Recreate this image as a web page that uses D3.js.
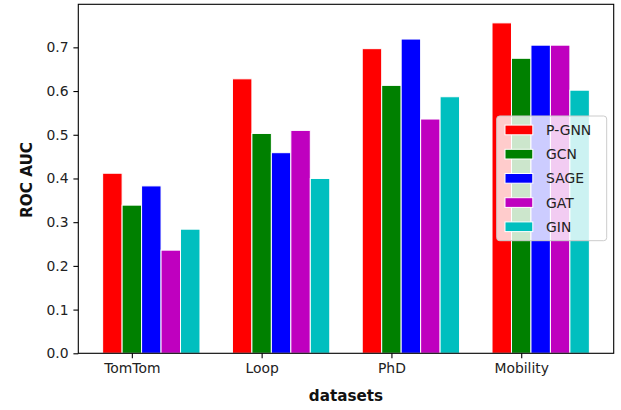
<!DOCTYPE html>
<html>
<head>
<meta charset="utf-8">
<script src="https://cdn.jsdelivr.net/npm/d3@7"></script>
<style>
  html, body { margin: 0; padding: 0; background: #fff; }
  svg text { font-family: "DejaVu Sans", sans-serif; }
</style>
</head>
<body>
<svg id="chart" width="621" height="410"></svg>
<script>
// Datasets on the x axis
const datasets = ["TomTom", "Loop", "PhD", "Mobility"];
// Models compared, one bar per model in each group
const models = ["P-GNN", "GCN", "SAGE", "GAT", "GIN"];
const modelColors = ["#ff0000", "#008000", "#0000ff", "#bf00bf", "#00bfbf"];
// ROC AUC per model, in dataset order
const pgnn = [0.412, 0.628, 0.697, 0.756];
const gcn  = [0.339, 0.503, 0.613, 0.675];
const sage = [0.383, 0.459, 0.719, 0.705];
const gat  = [0.236, 0.510, 0.536, 0.705];
const gin  = [0.284, 0.400, 0.587, 0.602];
const yTicks = [0.0, 0.1, 0.2, 0.3, 0.4, 0.5, 0.6, 0.7];

const series = [pgnn, gcn, sage, gat, gin];
const barWidth = 0.15;

const svg = d3.select("#chart");
const plotLeft = 78.3, plotRight = 613.7, plotTop = 4.3, plotBottom = 353.3;

const x = d3.scaleLinear().domain([-0.2625, 3.8625]).range([plotLeft, plotRight]);
const y = d3.scaleLinear().domain([0, 0.7985]).range([plotBottom, plotTop]);

// Bars
series.forEach((vals, m) => {
  svg.append("g").selectAll("rect")
    .data(vals)
    .join("rect")
    .attr("x", (d, i) => x(i + m * barWidth - barWidth / 2))
    .attr("width", x(barWidth) - x(0))
    .attr("y", d => y(d))
    .attr("height", d => y(0) - y(d))
    .attr("fill", modelColors[m])
    .attr("stroke", "#fff")
    .attr("stroke-width", 1);
});

// Axes
const yAxis = d3.axisLeft(y).tickValues(yTicks).tickFormat(d3.format(".1f")).tickSize(4.9).tickPadding(4.9);
const gy = svg.append("g").attr("transform", `translate(${plotLeft},0)`).call(yAxis);
const xAxis = d3.axisBottom(x).tickValues(datasets.map((d, i) => i + barWidth))
  .tickFormat((d, i) => datasets[i]).tickSize(4.9).tickPadding(4.9);
const gx = svg.append("g").attr("transform", `translate(0,${plotBottom})`).call(xAxis);
[gx, gy].forEach(g => {
  g.select(".domain").remove();
  g.selectAll(".tick line").attr("stroke", "#000").attr("stroke-width", 1.1);
  g.selectAll(".tick text").attr("fill", "#222").style("font-size", "13.9px");
});

// Frame
svg.append("rect")
  .attr("x", plotLeft).attr("y", plotTop)
  .attr("width", plotRight - plotLeft).attr("height", plotBottom - plotTop)
  .attr("fill", "none").attr("stroke", "#000").attr("stroke-width", 1.1);

// Axis titles
svg.append("text")
  .attr("x", (plotLeft + plotRight) / 2).attr("y", 400.5)
  .attr("text-anchor", "middle")
  .style("font-size", "15.2px").style("font-weight", "bold")
  .attr("fill", "#111")
  .text("datasets");
svg.append("text")
  .attr("transform", `translate(31.5,180) rotate(-90)`)
  .attr("text-anchor", "middle")
  .style("font-size", "15.2px").style("font-weight", "bold")
  .attr("fill", "#111")
  .text("ROC AUC");

// Legend
const lg = svg.append("g").attr("transform", "translate(496.7,116)");
lg.append("rect")
  .attr("width", 110).attr("height", 124.7)
  .attr("rx", 3).attr("ry", 3)
  .attr("fill", "rgba(255,255,255,0.8)")
  .attr("stroke", "#cccccc").attr("stroke-width", 1);
models.forEach((name, i) => {
  const cy = 14 + i * 24.2;
  lg.append("rect")
    .attr("x", 8.3).attr("y", cy - 4.9)
    .attr("width", 27.8).attr("height", 9.7)
    .attr("fill", modelColors[i])
    .attr("stroke", "#fff").attr("stroke-width", 1);
  lg.append("text")
    .attr("x", 49.4).attr("y", cy + 5)
    .style("font-size", "13.9px")
    .attr("fill", "#222")
    .text(name);
});
</script>
</body>
</html>
